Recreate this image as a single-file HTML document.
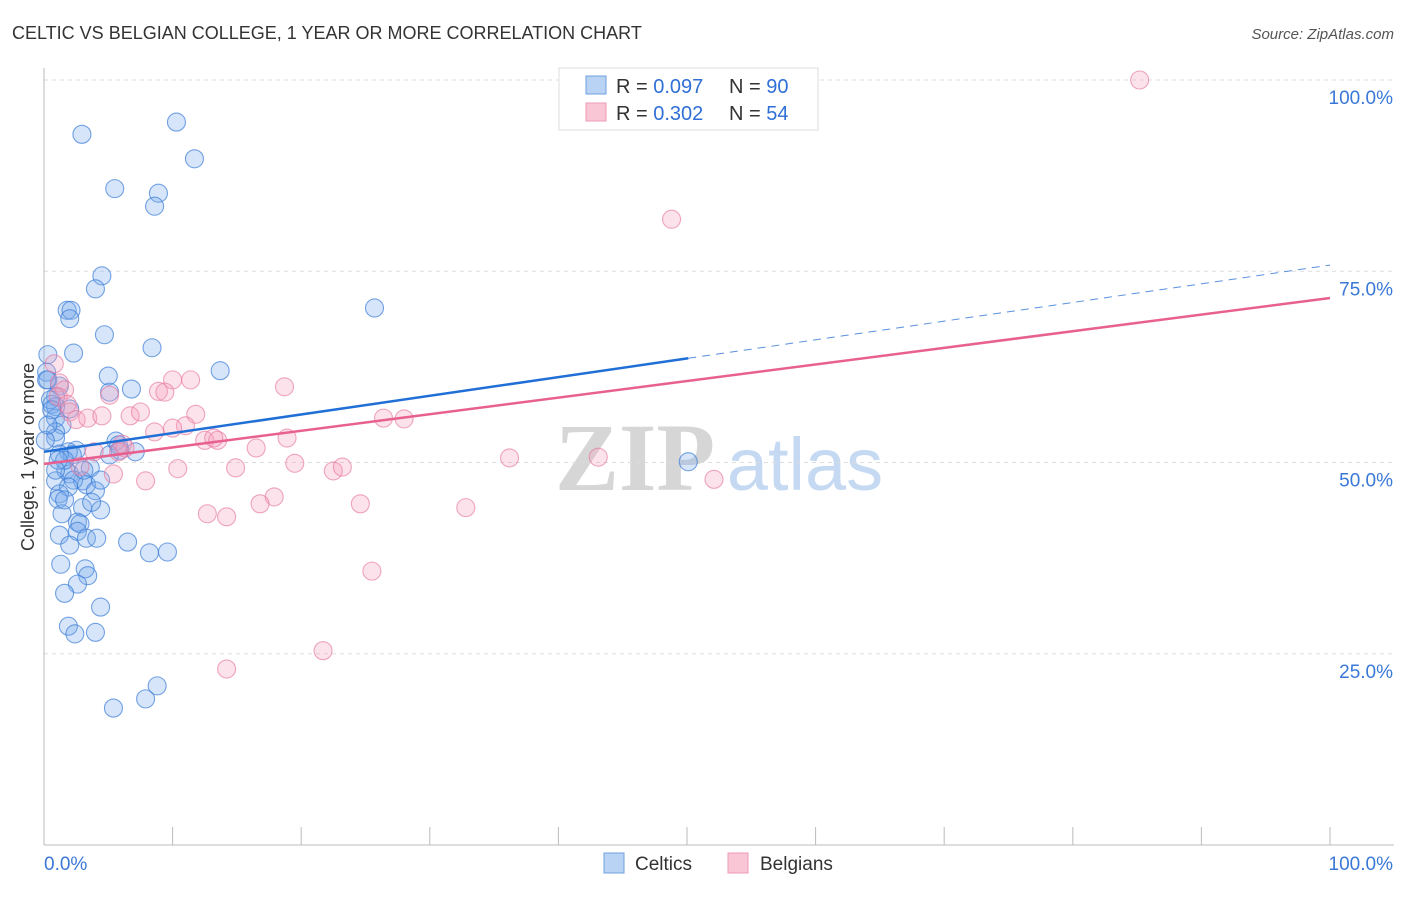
<!DOCTYPE html>
<html><head><meta charset="utf-8"><style>
body{margin:0;background:#fff;font-family:"Liberation Sans",sans-serif}
</style></head><body>
<svg id="chart" width="1406" height="892" xmlns="http://www.w3.org/2000/svg" font-family="Liberation Sans, sans-serif">
<text x="12" y="39" font-size="18" fill="#333">CELTIC VS BELGIAN COLLEGE, 1 YEAR OR MORE CORRELATION CHART</text>
<text x="1394" y="39" font-size="15" fill="#555" font-style="italic" text-anchor="end">Source: ZipAtlas.com</text>
<g>
<text x="635" y="490" font-size="96" fill="#d6d6d6" text-anchor="middle" font-family="Liberation Serif, serif" font-weight="bold">ZIP</text>
<text x="805" y="490" font-size="74" fill="#c5daf2" text-anchor="middle">atlas</text>
</g>
<g id="grid"></g>
<g id="axes"></g>
<g id="marks"></g>
<text transform="translate(34,457) rotate(-90)" font-size="18" fill="#333" text-anchor="middle">College, 1 year or more</text>
<g>
<rect x="559" y="68" width="259" height="62" fill="#fff" stroke="#ddd"/>
<rect x="586" y="76" width="20" height="18" fill="#b8d3f3" stroke="#6fa0e0"/>
<rect x="586" y="103" width="20" height="18" fill="#f9c6d6" stroke="#ee9ab5"/>
<text x="616" y="93" font-size="20" fill="#333">R = <tspan fill="#2f6fd6">0.097</tspan></text>
<text x="729" y="93" font-size="20" fill="#333">N = <tspan fill="#2f6fd6">90</tspan></text>
<text x="616" y="120" font-size="20" fill="#333">R = <tspan fill="#2f6fd6">0.302</tspan></text>
<text x="729" y="120" font-size="20" fill="#333">N = <tspan fill="#2f6fd6">54</tspan></text>
</g>
<g>
<rect x="604" y="853" width="20" height="20" fill="#b8d3f3" stroke="#6fa0e0"/>
<text x="635" y="870" font-size="19" fill="#333">Celtics</text>
<rect x="728" y="853" width="20" height="20" fill="#f9c6d6" stroke="#ee9ab5"/>
<text x="760" y="870" font-size="19" fill="#333">Belgians</text>
</g>
</svg>
<script>
const yTicks=[25,50,75,100];
const yTickLabels=["25.0%","50.0%","75.0%","100.0%"];
const xTickVals=[0,10,20,30,40,50,60,70,80,90,100];
const celticsX=[2.95,10.3,11.7,5.5,8.9,8.6,4.5,4.0,1.8,2.1,2.0,25.7,4.7,2.3,8.4,0.3,13.7,5.0,0.2,6.8,5.1,1.2,0.3,0.9,0.6,2.0,0.9,0.9,1.4,0.9,0.9,5.6,5.1,2.5,1.9,2.2,1.2,3.6,1.7,2.0,3.0,2.3,0.9,3.3,1.9,4.0,1.2,1.1,3.0,4.4,1.4,2.6,2.8,1.2,2.6,3.3,4.1,6.5,8.2,9.6,1.3,3.2,3.4,2.6,1.6,4.4,1.9,4.0,2.4,8.8,7.9,5.4,50.1,0.2,0.5,0.6,1.6,3.1,5.8,7.1,0.1,0.3,1.1,1.6,3.7,2.0,0.9,5.9,4.4];
const celticsY=[92.9,94.5,89.7,85.8,85.2,83.5,74.4,72.7,69.9,69.9,68.8,70.2,66.7,64.3,65.0,64.1,62.0,61.3,61.8,59.6,59.2,60.0,60.8,58.6,57.6,57.0,57.3,55.8,54.9,54.0,53.2,52.8,51.0,51.6,51.4,51.0,51.1,49.3,49.0,48.5,47.6,47.7,47.6,47.1,46.8,46.3,45.9,45.2,44.1,43.8,43.3,42.2,42.0,40.5,41.0,40.1,40.1,39.6,38.2,38.3,36.7,36.1,35.2,34.1,32.9,31.1,28.6,27.8,27.6,20.8,19.1,17.9,50.1,60.8,58.2,56.9,50.3,49.0,52.3,51.4,52.9,54.9,50.3,45.1,44.8,39.2,49.0,51.6,47.7];
const belgiansX=[85.2,48.8,0.8,1.2,1.6,1.1,1.8,2.0,2.5,3.4,4.5,5.1,6.7,7.5,8.9,10.0,9.4,11.4,11.8,11.0,10.0,8.6,6.1,6.3,5.8,3.9,2.8,5.4,7.9,10.4,12.5,13.5,13.2,14.9,16.5,18.7,18.9,19.5,22.5,23.2,24.6,26.4,28.0,17.9,16.8,12.7,14.2,25.5,21.7,14.2,32.8,36.2,43.1,52.1];
const belgiansY=[100,81.8,62.9,60.4,59.5,58.6,57.6,56.6,55.6,55.8,56.1,58.8,56.1,56.6,59.3,60.8,59.2,60.8,56.3,54.8,54.5,54.0,52.4,51.9,51.4,51.4,49.5,48.5,47.6,49.2,52.9,52.9,53.2,49.3,51.9,59.9,53.2,49.9,48.9,49.4,44.6,55.8,55.7,45.5,44.6,43.3,42.9,35.8,25.4,23.0,44.1,50.6,50.7,47.8];
const celticsTrend=[51.4,75.8];
const celticsSolidEnd=50.1;
const belgiansTrend=[49.8,71.5];

const NS="http://www.w3.org/2000/svg";
const X0=44,X1=1330,Y0=845,Y100=80;
const sx=v=>X0+(X1-X0)*v/100;
const sy=v=>Y0-(Y0-Y100)*v/100;
function mk(tag,attrs,parent){const e=document.createElementNS(NS,tag);for(const k in attrs)e.setAttribute(k,attrs[k]);parent.appendChild(e);return e;}
const grid=document.getElementById('grid'),axes=document.getElementById('axes'),marks=document.getElementById('marks');
yTicks.forEach((t,i)=>{
 const l=mk('line',{x1:X0,x2:1394,y1:sy(t),y2:sy(t),stroke:'#ddd','stroke-dasharray':'4,4'},grid);
 
 
 const tx=mk('text',{x:1393,y:sy(t)+24,'font-size':19,fill:'#3a78d8','text-anchor':'end'},axes);
 tx.textContent=yTickLabels[i];
 
 
});
const ya=mk('line',{x1:X0,x2:X0,y1:68,y2:Y0,stroke:'#bbb'},axes);


const xa=mk('line',{x1:X0,x2:1394,y1:Y0,y2:Y0,stroke:'#bbb'},axes);


xTickVals.forEach(v=>{
 const t=mk('line',{x1:sx(v),x2:sx(v),y1:Y0,y2:Y0-18,stroke:'#bbb'},axes);
 
 
});
const xl=mk('text',{x:44,y:870,'font-size':19,fill:'#3a78d8'},axes);xl.textContent='0.0%';


const xr=mk('text',{x:1393,y:870,'font-size':19,fill:'#3a78d8','text-anchor':'end'},axes);xr.textContent='100.0%';



function dots(xs,ys,fill,stroke,name){
 xs.forEach((x,i)=>{
  const c=mk('circle',{cx:sx(x),cy:sy(ys[i]),r:9,fill:fill,stroke:stroke,'stroke-width':1.1},marks);
  
  
 });
}
dots(celticsX,celticsY,'rgba(120,170,235,0.3)','rgba(60,125,215,0.7)','celtics-point');
dots(belgiansX,belgiansY,'rgba(245,160,190,0.3)','rgba(230,120,160,0.65)','belgians-point');
const cy=x=>celticsTrend[0]+(celticsTrend[1]-celticsTrend[0])*x/100;
const by=x=>belgiansTrend[0]+(belgiansTrend[1]-belgiansTrend[0])*x/100;
const l1=mk('line',{x1:sx(0),y1:sy(cy(0)),x2:sx(celticsSolidEnd),y2:sy(cy(celticsSolidEnd)),stroke:'#1f6fd6','stroke-width':2.5},marks);


const l2=mk('line',{x1:sx(celticsSolidEnd),y1:sy(cy(celticsSolidEnd)),x2:sx(100),y2:sy(cy(100)),stroke:'#5a90dd','stroke-width':1,'stroke-dasharray':'8,6'},marks);


const l3=mk('line',{x1:sx(0),y1:sy(by(0)),x2:sx(100),y2:sy(by(100)),stroke:'#e8608f','stroke-width':2.5},marks);


</script>
</body></html>
